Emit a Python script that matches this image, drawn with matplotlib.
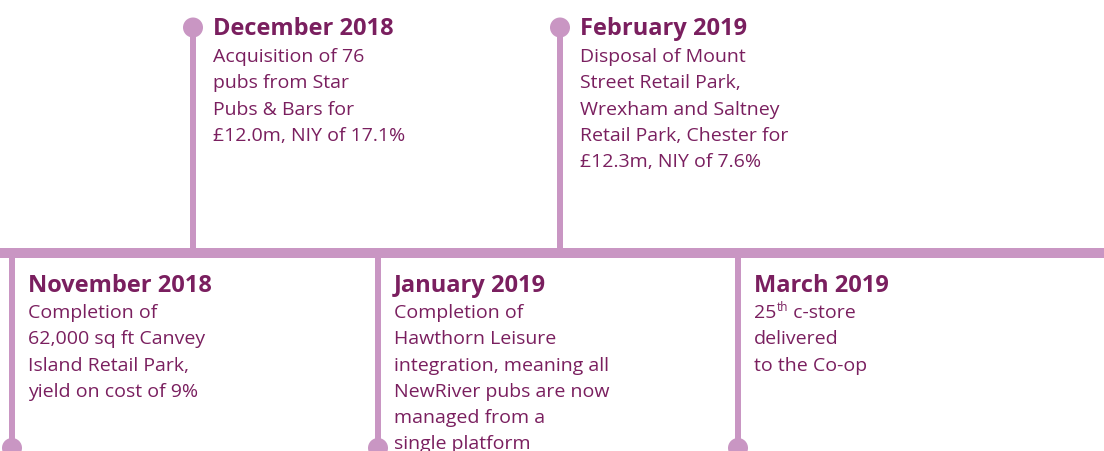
import matplotlib.pyplot as plt
from matplotlib.patches import Rectangle, Circle

# timeline events
top_dates = ["December 2018", "February 2019"]
top_texts = [
    ["Acquisition of 76", "pubs from Star", "Pubs & Bars for", "£12.0m, NIY of 17.1%"],
    ["Disposal of Mount", "Street Retail Park,", "Wrexham and Saltney",
     "Retail Park, Chester for", "£12.3m, NIY of 7.6%"],
]
bottom_dates = ["November 2018", "January 2019", "March 2019"]
bottom_texts = [
    ["Completion of", "62,000 sq ft Canvey", "Island Retail Park,", "yield on cost of 9%"],
    ["Completion of", "Hawthorn Leisure", "integration, meaning all",
     "NewRiver pubs are now", "managed from a", "single platform"],
    ["25|th| c-store", "delivered", "to the Co-op"],
]

# layout (pixels)
W, H = 1104, 452
top_x = [193, 560]
bottom_x = [12, 378, 738]
bar_y0, bar_y1 = 249, 259
stem_w = 5.5
dot_r = 10
line_col = "#C996C3"
text_col = "#7A1F5F"
family = ["Open Sans", "DejaVu Sans"]
head_size = 17
body_size = 14
line_gap = 26.3

fig = plt.figure(figsize=(W / 100, H / 100), dpi=100)
ax = fig.add_axes([0, 0, 1, 1])
ax.set_xlim(0, W)
ax.set_ylim(H, 0)
ax.axis("off")

ax.add_patch(Rectangle((0, bar_y0), W, bar_y1 - bar_y0, color=line_col, lw=0))

renderer = fig.canvas.get_renderer()


def body_line(x, y, s):
    # parts marked with |..| are drawn as superscript
    if "|" not in s:
        ax.text(x, y, s, color=text_col, fontsize=body_size, family=family, va="baseline")
        return
    parts = s.split("|")
    cx = x
    for i, p in enumerate(parts):
        if i % 2 == 1:
            t = ax.text(cx, y - 7, p, color=text_col, fontsize=body_size * 0.6,
                        family=family, va="baseline")
        else:
            t = ax.text(cx, y, p, color=text_col, fontsize=body_size,
                        family=family, va="baseline")
        cx += t.get_window_extent(renderer).width


for x, date, lines in zip(top_x, top_dates, top_texts):
    ax.add_patch(Rectangle((x - stem_w / 2, 28), stem_w, bar_y0 - 28, color=line_col, lw=0))
    ax.add_patch(Circle((x, 28.5), dot_r, color=line_col, lw=0))
    ax.text(x + 20, 35, date, color=text_col, fontsize=head_size, fontweight="bold",
            family=family, va="baseline")
    for i, s in enumerate(lines):
        body_line(x + 20, 62 + i * line_gap, s)

for x, date, lines in zip(bottom_x, bottom_dates, bottom_texts):
    ax.add_patch(Rectangle((x - stem_w / 2, bar_y1), stem_w, 449 - bar_y1, color=line_col, lw=0))
    ax.add_patch(Circle((x, 449), dot_r, color=line_col, lw=0))
    ax.text(x + 16, 292, date, color=text_col, fontsize=head_size, fontweight="bold",
            family=family, va="baseline")
    for i, s in enumerate(lines):
        body_line(x + 16, 318 + i * line_gap, s)

fig.savefig("out.png", dpi=100)
